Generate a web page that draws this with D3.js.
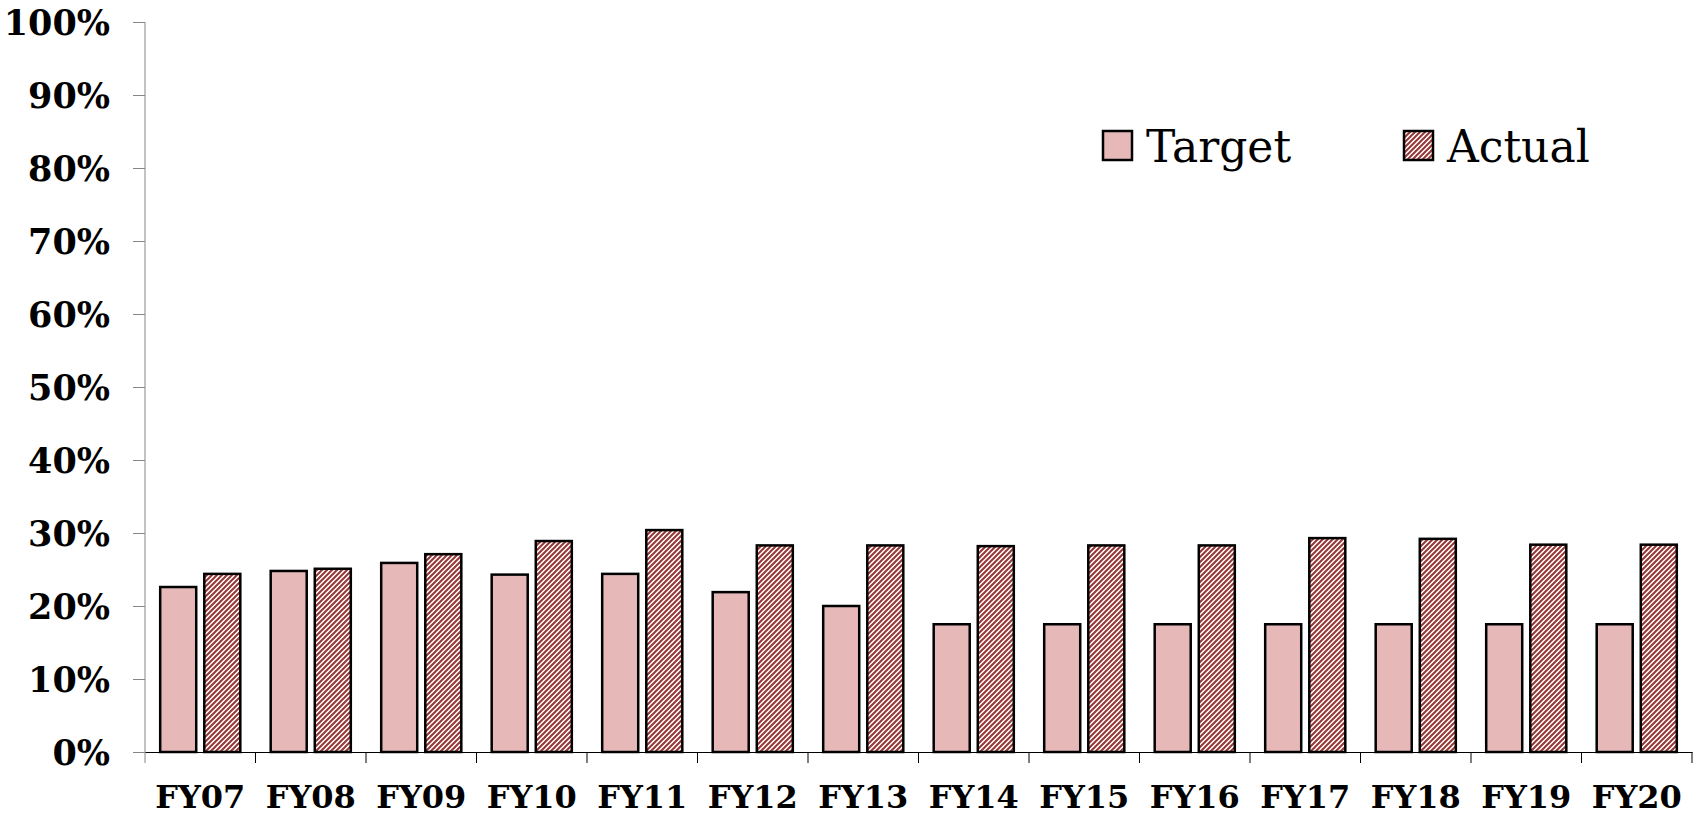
<!DOCTYPE html>
<html>
<head>
<meta charset="utf-8">
<script src="https://cdn.jsdelivr.net/npm/d3@7"></script>
<style>
  body { margin: 0; background: #fff; }
  .yAxisG text, .xAxisG text { font-family: "DejaVu Serif", serif; font-weight: bold; fill: #000; }
  .legend text { font-family: "DejaVu Serif", serif; fill: #000; }
</style>
</head>
<body>
<div id="chart"></div>
<script>
// chart data
const years = ["FY07", "FY08", "FY09", "FY10", "FY11", "FY12", "FY13", "FY14", "FY15", "FY16", "FY17", "FY18", "FY19", "FY20"];
const target = [22.6, 24.8, 25.9, 24.3, 24.4, 21.9, 20.0, 17.5, 17.5, 17.5, 17.5, 17.5, 17.5, 17.5];
const actual = [24.4, 25.1, 27.1, 28.9, 30.4, 28.3, 28.3, 28.2, 28.3, 28.3, 29.3, 29.2, 28.4, 28.4];
const yTicks = [0, 10, 20, 30, 40, 50, 60, 70, 80, 90, 100];
const seriesNames = ["Target", "Actual"];

const margin = {top: 22, right: 8, bottom: 63, left: 145};
const W = 1700, H = 815;
const width = W - margin.left - margin.right;
const height = H - margin.top - margin.bottom;

const svg = d3.select("#chart").append("svg")
    .attr("width", W)
    .attr("height", H);

// hatch pattern for Actual ("/" stripes)
const defs = svg.append("defs");
const pat = defs.append("pattern")
    .attr("id", "hatch")
    .attr("patternUnits", "userSpaceOnUse")
    .attr("width", 5)
    .attr("height", 5);
pat.append("rect").attr("width", 5).attr("height", 5).attr("fill", "#fff");
pat.append("path")
    .attr("d", "M-1,1 L1,-1 M0,5 L5,0 M4,6 L6,4")
    .attr("stroke", "#953735")
    .attr("stroke-width", 2)
    .attr("stroke-linecap", "square");

const g = svg.append("g")
    .attr("transform", "translate(" + margin.left + "," + margin.top + ")");

const x = d3.scaleBand().domain(years).range([0, width]).paddingInner(0).paddingOuter(0);
const y = d3.scaleLinear().domain([0, 100]).range([height, 0]);

// bars
const barW = x.bandwidth() * 0.326;
const gap = x.bandwidth() * 0.073;
const side = (x.bandwidth() - 2 * barW - gap) / 2;

const rows = years.map((yr, i) => ({year: yr, target: target[i], actual: actual[i]}));

g.selectAll(".targetBar")
    .data(rows)
    .join("rect")
    .attr("class", "targetBar")
    .attr("x", d => x(d.year) + side)
    .attr("y", d => y(d.target))
    .attr("width", barW)
    .attr("height", d => y(0) - y(d.target))
    .attr("fill", "#E6B9B8")
    .attr("stroke", "#000")
    .attr("stroke-width", 2.5);

g.selectAll(".actualBar")
    .data(rows)
    .join("rect")
    .attr("class", "actualBar")
    .attr("x", d => x(d.year) + side + barW + gap)
    .attr("y", d => y(d.actual))
    .attr("width", barW)
    .attr("height", d => y(0) - y(d.actual))
    .attr("fill", "url(#hatch)")
    .attr("stroke", "#000")
    .attr("stroke-width", 2.5);

// y axis
const yAxis = g.append("g")
    .attr("class", "yAxisG")
    .call(d3.axisLeft(y).tickValues(yTicks).tickFormat(d => d + "%").tickSize(12).tickSizeOuter(0));
yAxis.select(".domain").remove();
yAxis.append("line")
    .attr("x1", 0).attr("x2", 0)
    .attr("y1", 0).attr("y2", height + 11)
    .attr("stroke", "#868686");
yAxis.selectAll(".tick line").attr("stroke", "#868686");
yAxis.selectAll("text")
    .attr("x", -35)
    .attr("dy", "0.36em")
    .style("font-size", "35px");

// x axis
const xAxis = g.append("g")
    .attr("class", "xAxisG")
    .attr("transform", "translate(0," + height + ")")
    .call(d3.axisBottom(x).tickSize(0).tickSizeOuter(0));
xAxis.select(".domain").attr("stroke", "#000").attr("stroke-width", 1.2);
xAxis.selectAll("text")
    .attr("y", 56)
    .attr("dy", 0)
    .style("font-size", "32px");
// category boundary ticks
xAxis.selectAll(".sepTick")
    .data(years.map(d => x(d) + x.bandwidth()))
    .join("line")
    .attr("class", "sepTick")
    .attr("x1", d => d).attr("x2", d => d)
    .attr("y1", 0).attr("y2", 11)
    .attr("stroke", "#000");

// legend
const legend = g.append("g").attr("class", "legend");
const legX = [1103 - margin.left, 1404 - margin.left];
seriesNames.forEach((name, i) => {
    legend.append("rect")
        .attr("x", legX[i])
        .attr("y", 131 - margin.top)
        .attr("width", 29)
        .attr("height", 29)
        .attr("fill", i === 0 ? "#E6B9B8" : "url(#hatch)")
        .attr("stroke", "#000")
        .attr("stroke-width", 2.5);
    legend.append("text")
        .attr("x", legX[i] + 43)
        .attr("y", 162 - margin.top)
        .style("font-size", "44px")
        .text(name);
});
</script>
</body>
</html>
